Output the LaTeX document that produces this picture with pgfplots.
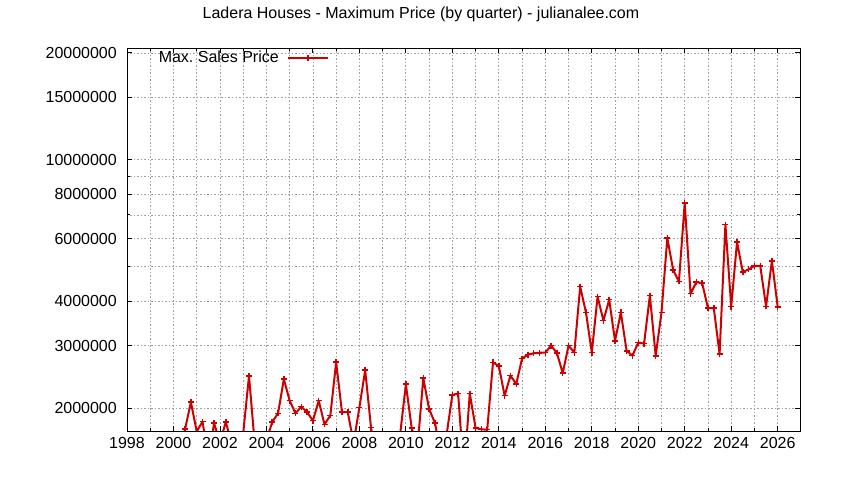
\documentclass[border=0pt]{standalone}
\usepackage{fontspec}
\setmainfont{Liberation Sans}
\usepackage{pgfplots}
\pgfplotsset{compat=1.18}
\definecolor{gpred}{RGB}{204,0,0}
\definecolor{gpgrid}{RGB}{160,160,160}
\newcommand\ff{\fontsize{16}{19}\selectfont}
\begin{document}
\begin{tikzpicture}
\path[use as bounding box] (-127pt,-49pt) rectangle (717pt,431pt);
\node[font=\ff] at (294pt,417pt) {Ladera Houses - Maximum Price (by quarter) - julianalee.com};
\begin{axis}[
    at={(0pt,0pt)}, anchor=south west,
    scale only axis,
    width=673pt, height=383pt,
    ymode=log,
    xmin=1998, xmax=2026.96,
    ymin=1.726e6, ymax=20.65e6,
    xtick={1998,2000,...,2026},
    xticklabels={1998,2000,2002,2004,2006,2008,2010,2012,2014,2016,2018,2020,2022,2024,2026},
    minor xtick={1999,2001,...,2025},
    ytick={2e6,3e6,4e6,6e6,8e6,1e7,1.5e7,2e7},
    yticklabels={2000000,3000000,4000000,6000000,8000000,10000000,15000000,20000000},
    minor ytick={5e6,7e6,9e6},
    grid=both,
    major grid style={gpgrid, dash pattern=on 1.5pt off 2pt, line width=0.8pt},
    minor grid style={gpgrid, dash pattern=on 1.5pt off 2pt, line width=0.8pt},
    axis line style={black, line width=0.9pt},
    tick style={black, line width=0.9pt},
    major tick length=5pt, minor tick length=3pt,
    tick label style={font=\ff},
    yticklabel style={inner sep=0pt, xshift=-10pt},
    xticklabel style={inner sep=0pt, yshift=-6pt},
    clip marker paths=true,
    legend style={at={(axis description cs:0.3046,0.974)}, anchor=east,
        draw=none, fill=none, font=\ff, legend cell align=right},
    legend plot pos=right,
    legend image code/.code={\path (-6pt,0pt);
        \draw[#1, mark repeat=2, mark phase=2]
        plot coordinates {(0pt,0pt) (20pt,0pt) (40pt,0pt)};},
]
\addplot[gpred, line width=2pt, line join=round, mark=+, mark size=3pt,
    mark options={solid, line width=1.5pt}]
coordinates {
(2000.25, 1.50e6)
(2000.5, 1.749e6)
(2000.75, 2.08e6)
(2001.0, 1.72e6)
(2001.25, 1.834e6)
(2001.5, 1.45e6)
(2001.75, 1.815e6)
(2002.0, 1.60e6)
(2002.25, 1.83e6)
(2002.5, 1.60e6)
(2002.75, 1.40e6)
(2003.0, 1.70e6)
(2003.25, 2.466e6)
(2003.5, 1.58e6)
(2003.75, 1.40e6)
(2004.0, 1.62e6)
(2004.25, 1.83e6)
(2004.5, 1.936e6)
(2004.75, 2.414e6)
(2005.0, 2.10e6)
(2005.25, 1.936e6)
(2005.5, 2.02e6)
(2005.75, 1.95e6)
(2006.0, 1.846e6)
(2006.25, 2.10e6)
(2006.5, 1.80e6)
(2006.75, 1.91e6)
(2007.0, 2.695e6)
(2007.25, 1.95e6)
(2007.5, 1.95e6)
(2007.75, 1.60e6)
(2008.0, 2.01e6)
(2008.25, 2.56e6)
(2008.5, 1.764e6)
(2008.75, 1.40e6)
(2009.0, 1.30e6)
(2009.25, 1.30e6)
(2009.5, 1.40e6)
(2009.75, 1.68e6)
(2010.0, 2.337e6)
(2010.25, 1.76e6)
(2010.5, 1.55e6)
(2010.75, 2.43e6)
(2011.0, 1.99e6)
(2011.25, 1.82e6)
(2011.5, 1.50e6)
(2011.75, 1.68e6)
(2012.0, 2.18e6)
(2012.25, 2.20e6)
(2012.5, 1.30e6)
(2012.75, 2.20e6)
(2013.0, 1.76e6)
(2013.25, 1.745e6)
(2013.5, 1.74e6)
(2013.75, 2.69e6)
(2014.0, 2.63e6)
(2014.25, 2.17e6)
(2014.5, 2.47e6)
(2014.75, 2.34e6)
(2015.0, 2.76e6)
(2015.25, 2.83e6)
(2015.5, 2.856e6)
(2015.75, 2.865e6)
(2016.0, 2.87e6)
(2016.25, 3.00e6)
(2016.5, 2.86e6)
(2016.75, 2.51e6)
(2017.0, 3.00e6)
(2017.25, 2.87e6)
(2017.5, 4.40e6)
(2017.75, 3.72e6)
(2018.0, 2.87e6)
(2018.25, 4.125e6)
(2018.5, 3.53e6)
(2018.75, 4.04e6)
(2019.0, 3.095e6)
(2019.25, 3.72e6)
(2019.5, 2.90e6)
(2019.75, 2.813e6)
(2020.0, 3.06e6)
(2020.25, 3.04e6)
(2020.5, 4.15e6)
(2020.75, 2.81e6)
(2021.0, 3.72e6)
(2021.25, 6.025e6)
(2021.5, 4.906e6)
(2021.75, 4.547e6)
(2022.0, 7.56e6)
(2022.25, 4.20e6)
(2022.5, 4.53e6)
(2022.75, 4.50e6)
(2023.0, 3.825e6)
(2023.25, 3.825e6)
(2023.5, 2.845e6)
(2023.75, 6.57e6)
(2024.0, 3.866e6)
(2024.25, 5.87e6)
(2024.5, 4.83e6)
(2024.75, 4.92e6)
(2025.0, 5.03e6)
(2025.25, 5.03e6)
(2025.5, 3.87e6)
(2025.75, 5.20e6)
(2026.0, 3.86e6)
};
\addlegendentry{Max.\ Sales Price}
\end{axis}
\end{tikzpicture}
\end{document}
